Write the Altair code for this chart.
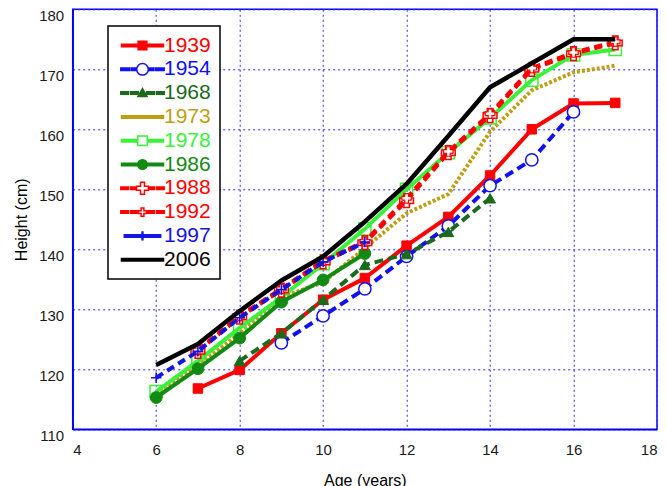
import altair as alt
import pandas as pd

# ---------------- data ----------------
years = ["1939", "1954", "1968", "1973", "1978", "1986", "1988", "1992", "1997", "2006"]

age_1939 = [7, 8, 9, 10, 11, 12, 13, 14, 15, 16, 17]
cm_1939 = [116.8, 119.9, 126.0, 131.6, 135.2, 140.6, 145.4, 152.3, 160.0, 164.3, 164.4]

age_1954 = [9, 10, 11, 12, 13, 14, 15, 16]
cm_1954 = [124.4, 128.9, 133.4, 138.8, 143.9, 150.6, 154.9, 162.9]

age_1968 = [8, 9, 10, 11, 12, 13, 14]
cm_1968 = [121.4, 126.0, 131.6, 137.4, 139.2, 142.9, 148.5]

age_1973 = [6, 7, 8, 9, 10, 11, 12, 13, 14, 15, 16, 17]
cm_1973 = [115.8, 120.6, 126.0, 132.0, 134.5, 140.2, 146.0, 149.2, 159.6, 166.5, 169.5, 170.6]

age_1978 = [6, 7, 8, 9, 10, 11, 12, 13, 14, 15, 16, 17]
cm_1978 = [116.3, 121.4, 126.9, 132.0, 137.6, 143.4, 150.0, 156.1, 161.9, 168.2, 172.4, 173.3]

age_1986 = [6, 7, 8, 9, 10, 11]
cm_1986 = [115.3, 120.1, 125.2, 131.2, 134.9, 139.3]

age_1988 = [7, 8, 9, 10, 11, 12, 13, 14, 15, 16, 17]
cm_1988 = [123.0, 128.7, 133.2, 137.9, 141.1, 148.1, 156.1, 162.3, 170.0, 172.6, 174.4]

age_1992 = [7, 8, 9, 10, 11, 12, 13, 14, 15, 16, 17]
cm_1992 = [123.2, 128.9, 133.4, 138.1, 141.3, 148.5, 156.3, 162.6, 170.2, 172.8, 174.6]

age_1997 = [6, 7, 8, 9, 10, 11]
cm_1997 = [118.6, 123.0, 128.6, 133.3, 137.9, 141.2]

age_2006 = [6, 7, 8, 9, 10, 11, 12, 13, 14, 15, 16, 17]
cm_2006 = [120.7, 124.2, 129.7, 134.8, 138.8, 144.6, 150.9, 158.9, 167.0, 171.0, 175.0, 175.0]

x_ticks = [4, 6, 8, 10, 12, 14, 16, 18]
y_ticks = [110, 120, 130, 140, 150, 160, 170, 180]

series = {
    "1939": (age_1939, cm_1939), "1954": (age_1954, cm_1954),
    "1968": (age_1968, cm_1968), "1973": (age_1973, cm_1973),
    "1978": (age_1978, cm_1978), "1986": (age_1986, cm_1986),
    "1988": (age_1988, cm_1988), "1992": (age_1992, cm_1992),
    "1997": (age_1997, cm_1997), "2006": (age_2006, cm_2006),
}
rows = []
for yr in years:
    a, h = series[yr]
    for ai, hi in zip(a, h):
        rows.append({"year": yr, "age": ai, "height": hi})
df = pd.DataFrame(rows)

# ---------------- styles ----------------
RED, BLUE, DKGREEN, GOLD = "#ff0000", "#1010f0", "#1c6b1c", "#bf9f12"
LTGREEN, GREEN, BLACK = "#3af03a", "#138a13", "#000000"
color = {"1939": RED, "1954": BLUE, "1968": DKGREEN, "1973": GOLD, "1978": LTGREEN,
         "1986": GREEN, "1988": RED, "1992": RED, "1997": "#1414e0", "2006": BLACK}
dash = {"1954": [9, 5], "1968": [9, 5], "1973": [3, 2], "1988": [8, 5],
        "1992": [8, 5], "1997": [8, 5]}
width = {yr: 4 for yr in years}
width["2006"] = 4.5
marker = {
    "1939": dict(shape="square", filled=True, fill=RED, stroke=RED, size=90, strokeWidth=1),
    "1954": dict(shape="circle", filled=False, fill="white", stroke=BLUE, size=150, strokeWidth=1.5),
    "1968": dict(shape="triangle-up", filled=True, fill=DKGREEN, stroke=DKGREEN, size=120, strokeWidth=1),
    "1978": dict(shape="square", filled=False, stroke=LTGREEN, size=150, strokeWidth=1.5),
    "1986": dict(shape="circle", filled=True, fill=GREEN, stroke=GREEN, size=140, strokeWidth=1),
    "1988": dict(shape="cross", filled=False, fill="white", stroke=RED, size=190, strokeWidth=1.5),
    "1992": dict(shape="cross", filled=False, fill="white", stroke=RED, size=90, strokeWidth=1.2),
    "1997": dict(shape="M-1,0H1M0,-1V1", filled=False, stroke="#1414e0", size=110, strokeWidth=1.6),
}

# legend glyphs: line (+ marker) drawn as one custom symbol path
def bar(a, b, hollow=False):
    if hollow:
        return f"M{a},-0.18H{b}V-0.05H{a}ZM{a},0.05H{b}V0.18H{a}Z"
    return f"M{a},-0.18H{b}V0.18H{a}Z"

def sq(s):
    return f"M{-s},{-s}H{s}V{s}H{-s}Z"

def circ(r):
    return f"M{r},0A{r},{r},0,1,1,{-r},0A{r},{r},0,1,1,{r},0Z"

def cross(c, a):
    return (f"M{-a},{-c}H{a}V{-a}H{c}V{a}H{a}V{c}H{-a}V{a}H{-c}V{-a}H{-a}Z")

def tri(t):
    return f"M0,{-t}L{t},{t * 0.75}H{-t}Z"

legend_path = {
    "1939": bar(-3, 3) + sq(0.62),
    "1954": bar(-3.1, -1.8, True) + bar(-1.55, -0.85, True) + bar(0.85, 1.55, True)
            + bar(1.8, 3.1, True) + circ(0.83),
    "1968": bar(-3.1, -2.0) + bar(-1.7, -0.6) + bar(0.6, 1.7) + bar(2.0, 3.1) + tri(0.65),
    "1973": bar(-3, 3),
    "1978": bar(-3, -0.68, True) + bar(0.68, 3, True) + sq(0.68),
    "1986": bar(-3, 3) + circ(0.68),
    "1988": bar(-3.1, -2.0, True) + bar(-1.7, -0.85, True) + bar(0.85, 1.7, True)
            + bar(2.0, 3.1, True) + cross(0.85, 0.28),
    "1992": bar(-3.1, -2.0, True) + bar(-1.7, -0.6, True) + bar(0.6, 1.7, True)
            + bar(2.0, 3.1, True) + cross(0.58, 0.2),
    "1997": bar(-2.6, 2.6) + "M-0.06,-0.55H0.06V0.55H-0.06Z",
    "2006": bar(-3, 3),
}
legend_fill = {yr: color[yr] for yr in years}
for yr in ["1954", "1978", "1988", "1992"]:
    legend_fill[yr] = "white"

label_expr = " : ".join(f"datum.label == '{yr}' ? '{color[yr]}'" for yr in years) + " : 'black'"

FONT = "Liberation Sans"

x_enc = alt.X("age:Q", scale=alt.Scale(domain=[4, 18], nice=False, zero=False),
              axis=alt.Axis(values=x_ticks, title="Age (years)", labelPadding=13,
                            titlePadding=15, format="d"))
y_enc = alt.Y("height:Q", scale=alt.Scale(domain=[110, 180], nice=False, zero=False),
              axis=alt.Axis(values=y_ticks, title="Height (cm)", labelPadding=9,
                            labelOffset=6.5, titlePadding=9, format="d"))

layers = []
for yr in years:
    base = alt.Chart(df).transform_filter(alt.datum.year == yr)
    lkw = dict(color=color[yr], strokeWidth=width[yr], strokeJoin="round", strokeCap="butt")
    if yr in dash:
        lkw["strokeDash"] = dash[yr]
    layers.append(base.mark_line(**lkw).encode(x=x_enc, y=y_enc))
    if yr in marker:
        layers.append(base.mark_point(opacity=1, **marker[yr]).encode(x="age:Q", y="height:Q"))

leg = alt.Legend(title=None, orient="none", legendX=35.3, legendY=16.7, padding=9,
                 labelFont=FONT, labelFontSize=21, labelColor=alt.ExprRef(expr=label_expr),
                 symbolSize=196, symbolStrokeWidth=1.5, symbolOffset=15, labelOffset=11,
                 rowPadding=1.8, strokeColor="black", fillColor="white", symbolOpacity=1)

legend_layer = alt.Chart(df).transform_filter("false").mark_point(filled=True).encode(
    x="age:Q", y="height:Q",
    shape=alt.Shape("year:N", scale=alt.Scale(domain=years, range=[legend_path[y] for y in years]), legend=leg),
    stroke=alt.Stroke("year:N", scale=alt.Scale(domain=years, range=[color[y] for y in years]), legend=leg),
    fill=alt.Fill("year:N", scale=alt.Scale(domain=years, range=[legend_fill[y] for y in years]), legend=leg),
)
layers.append(legend_layer)

chart = alt.layer(*layers).properties(
    width=584.3, height=420,
    autosize=alt.AutoSizeParams(type="none"),
    padding={"left": 64.7, "top": 1.3, "right": 2, "bottom": 56.7},
).configure_view(
    stroke="#0000ff", strokeWidth=1.5
).configure_axis(
    domainColor="#0000ff", domainWidth=1.5, ticks=False,
    grid=True, gridColor="#2a2aff", gridDash=[2, 3], gridWidth=1, gridOpacity=1,
    labelFont=FONT, labelFontSize=15, labelColor="#1a1a1a",
    titleFont=FONT, titleFontSize=16, titleFontWeight="normal", titleColor="#000000",
).configure_legend(
    strokeWidth=1.5
)

chart.save("out.html", embed_options={"renderer": "svg", "actions": False})
